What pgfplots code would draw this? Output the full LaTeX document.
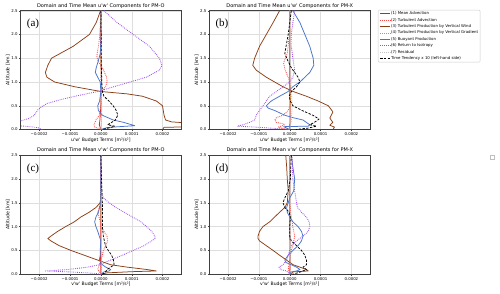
\documentclass[border=0pt]{standalone}
\usepackage{pgfplots}
\pgfplotsset{compat=1.18}
\usepackage{fontspec}
\setmainfont{DejaVu Sans}[Ligatures=TeXOff]
\newfontfamily\labfont{Liberation Serif}

\definecolor{cMA}{RGB}{214,30,30}
\definecolor{cTA}{RGB}{250,70,70}
\definecolor{cPW}{RGB}{139,62,22}
\definecolor{cPG}{RGB}{215,140,70}
\definecolor{cBP}{RGB}{70,115,205}
\definecolor{cRI}{RGB}{155,75,240}
\definecolor{cRS}{RGB}{195,195,195}

\pgfplotsset{
  every axis title shift=0pt,
  s1/.style={color=cMA, line width=0.75pt},
  s2/.style={color=cTA, line width=0.85pt, dash pattern=on 0.8pt off 1.1pt},
  s3/.style={color=cPW, line width=0.75pt},
  s4/.style={color=cPG, line width=0.85pt, dash pattern=on 0.8pt off 1.1pt},
  s5/.style={color=cBP, line width=0.75pt},
  s6/.style={color=cRI, line width=0.85pt, dash pattern=on 0.8pt off 1.1pt},
  s7/.style={color=cRS, line width=0.85pt, dash pattern=on 0.8pt off 1.1pt},
  s8/.style={color=black, line width=0.75pt, dash pattern=on 2.4pt off 1.4pt},
  panel/.style={
    scale only axis, width=160.3pt, height=118.8pt,
    anchor=south west,
    xmin=-0.00026, xmax=0.00026, ymin=0, ymax=2.5,
    xtick={-0.0002,-0.0001,0,0.0001,0.0002},
    xticklabels={−0.0002,−0.0001,0.0000,0.0001,0.0002},
    ytick={0,0.5,1,1.5,2,2.5},
    yticklabels={0.0,0.5,1.0,1.5,2.0,2.5},
    scaled x ticks=false,
    tick label style={font=\fontsize{3.9}{4.5}\selectfont},
    xticklabel style={inner sep=1.2pt},
    yticklabel style={inner sep=1.2pt},
    label style={font=\fontsize{4.6}{5.5}\selectfont},
    xlabel style={inner sep=1pt, yshift=0.5pt},
    ylabel style={inner sep=1pt, yshift=-1pt},
    title style={font=\fontsize{5}{6}\selectfont, inner sep=1pt, yshift=0.8pt},
    grid=major, major grid style={line width=0.35pt, black!13},
    axis line style={line width=0.45pt, black!75},
    tick align=outside, tick pos=left, major tick length=1.8pt,
    tick style={black!75, line width=0.35pt},
    ylabel={Altitude [km]},
    every axis plot/.append style={line join=round},
  },
}

\begin{document}
\begin{tikzpicture}
\path[use as bounding box] (0pt,0pt) rectangle (500pt,293pt);

% ---------------- (a) ----------------
\begin{axis}[panel, at={(20.7pt,163.5pt)},
  title={Domain and Time Mean u'w' Components for PM-O},
  xlabel={u'w' Budget Terms [m²/s²]}]
\addplot[s1] coordinates {(0,2.5)(-0.02e-4,2.0)(0,1.5)(0.02e-4,1.0)(0,0.5)(-0.03e-4,0.2)(-0.05e-4,0.1)(0,0)};
\addplot[s2] coordinates {(0,2.5)(-0.02e-4,2.2)(-0.03e-4,2.0)(-0.08e-4,1.75)(-0.13e-4,1.55)(-0.1e-4,1.45)(0.05e-4,1.3)(0.12e-4,1.2)(0.19e-4,1.1)(0.2e-4,1.0)(0.15e-4,0.9)(0.03e-4,0.8)(0,0.7)(0,0.5)(-0.05e-4,0.3)(-0.16e-4,0.2)(-0.22e-4,0.1)(-0.2e-4,0.05)(-0.05e-4,0.02)(0,0)};
\addplot[s3] coordinates {(-0.01e-4,2.5)(-0.15e-4,2.25)(-0.37e-4,2.0)(-0.9e-4,1.75)(-1.6e-4,1.5)(-1.72e-4,1.35)(-1.8e-4,1.2)(-1.75e-4,1.1)(-1.5e-4,1.0)(-0.85e-4,0.9)(0,0.8)(0.85e-4,0.75)(1.35e-4,0.7)(1.8e-4,0.6)(2.0e-4,0.5)(2.05e-4,0.3)(2.1e-4,0.2)(2.3e-4,0.16)(3.0e-4,0.13)(3.5e-4,0.1)(3.0e-4,0.06)(2.05e-4,0.045)(2.0e-4,0)};
\addplot[s4] coordinates {(0,2.5)(0,1.0)(0.01e-4,0.5)(0.02e-4,0.2)(0,0)};
\addplot[s5] coordinates {(0,2.5)(0.01e-4,2.0)(-0.02e-4,1.6)(-0.08e-4,1.45)(-0.15e-4,1.3)(-0.18e-4,1.2)(-0.1e-4,1.1)(-0.02e-4,1.0)(0,0.8)(-0.04e-4,0.6)(-0.1e-4,0.5)(-0.08e-4,0.4)(0.05e-4,0.3)(0.4e-4,0.2)(0.74e-4,0.15)(1.0e-4,0.1)(1.1e-4,0.08)(0.6e-4,0.06)(0.2e-4,0.04)(0,0)};
\addplot[s6] coordinates {(0.1e-4,2.5)(0.53e-4,2.25)(1.05e-4,2.0)(1.58e-4,1.75)(1.9e-4,1.5)(1.98e-4,1.35)(1.9e-4,1.25)(1.47e-4,1.1)(0.95e-4,1.0)(0.42e-4,0.9)(-0.1e-4,0.8)(-0.84e-4,0.7)(-1.3e-4,0.63)(-1.73e-4,0.55)(-1.9e-4,0.49)(-2.05e-4,0.41)(-2.16e-4,0.3)(-2.32e-4,0.235)(-2.5e-4,0.2)(-2.8e-4,0.15)(-2.7e-4,0.08)(-2.3e-4,0.06)(-2.05e-4,0.04)(-1.9e-4,0)};
\addplot[s7] coordinates {(0,2.5)(0.01e-4,1.5)(0.02e-4,0.8)(0.03e-4,0.3)(0,0)};
\addplot[s8] coordinates {(0,2.5)(0.01e-4,2.0)(0.01e-4,1.5)(0.03e-4,1.0)(0.05e-4,0.8)(0.1e-4,0.7)(0.26e-4,0.6)(0.4e-4,0.5)(0.5e-4,0.4)(0.55e-4,0.3)(0.47e-4,0.2)(0.35e-4,0.15)(0.22e-4,0.1)(0.45e-4,0.07)(0.3e-4,0.04)(0.05e-4,0)};
\node[font=\labfont\fontsize{11}{12}\selectfont] at (rel axis cs:0.077,0.888) {(a)};
\end{axis}

% ---------------- (b) ----------------
\begin{axis}[panel, at={(209.6pt,163.5pt)},
  title={Domain and Time Mean u'w' Components for PM-X},
  xlabel={u'w' Budget Terms [m²/s²]},
  legend style={at={(1.0505,1.006)}, anchor=north west,
    font=\fontsize{3.9}{4.4}\selectfont, draw=black!20, rounded corners=1pt,
    inner xsep=1.5pt, inner ysep=1.2pt, row sep=1.6pt,
    nodes={inner sep=0.5pt, text height=2.9pt, text depth=0.9pt}},
  legend cell align=left,
  legend image code/.code={\draw[#1] (0pt,0pt) -- (10pt,0pt);}]
\addplot[s1] coordinates {(0,2.5)(0,1.0)(0.01e-4,0.3)(0,0)};
\addlegendentry{(1) Mean Advection}
\addplot[s2] coordinates {(0,2.5)(-0.01e-4,2.0)(-0.08e-4,1.6)(-0.2e-4,1.4)(-0.15e-4,1.25)(-0.05e-4,1.1)(0.02e-4,0.9)(0.03e-4,0.7)(0.01e-4,0.5)(-0.05e-4,0.4)(-0.22e-4,0.3)(-0.43e-4,0.25)(-0.49e-4,0.2)(-0.43e-4,0.15)(-0.22e-4,0.12)(-0.16e-4,0.1)(-0.38e-4,0.05)(-0.2e-4,0.02)(0,0)};
\addlegendentry{(2) Turbulent Advection}
\addplot[s3] coordinates {(-0.33e-4,2.5)(-0.54e-4,2.25)(-0.76e-4,2.0)(-0.98e-4,1.75)(-1.14e-4,1.5)(-1.2e-4,1.35)(-1.09e-4,1.25)(-0.76e-4,1.1)(-0.49e-4,1.0)(-0.22e-4,0.9)(0.11e-4,0.8)(0.54e-4,0.7)(0.92e-4,0.6)(1.25e-4,0.5)(1.4e-4,0.37)(1.3e-4,0.24)(1.4e-4,0.15)(1.3e-4,0.09)(1.45e-4,0.05)(1.4e-4,0)};
\addlegendentry{(3) Turbulent Production by Vertical Wind}
\addplot[s4] coordinates {(0,2.5)(0.01e-4,1.0)(0.03e-4,0.4)(0.05e-4,0.2)(0,0)};
\addlegendentry{(4) Turbulent Production by Vertical Gradient}
\addplot[s5] coordinates {(0.1e-4,2.5)(0.33e-4,2.25)(0.49e-4,2.0)(0.65e-4,1.75)(0.76e-4,1.5)(0.78e-4,1.35)(0.65e-4,1.2)(0.49e-4,1.1)(0.33e-4,1.0)(0.1e-4,0.9)(-0.05e-4,0.8)(-0.33e-4,0.7)(-0.6e-4,0.6)(-0.76e-4,0.5)(-0.7e-4,0.45)(-0.49e-4,0.4)(-0.16e-4,0.3)(0.1e-4,0.25)(0.43e-4,0.2)(0.54e-4,0.15)(0.65e-4,0.1)(0.6e-4,0.07)(-0.2e-4,0.06)(-0.1e-4,0.03)(0,0)};
\addlegendentry{(5) Buoyant Production}
\addplot[s6] coordinates {(0.16e-4,2.5)(0.1e-4,2.25)(0.05e-4,2.0)(0.05e-4,1.75)(0.1e-4,1.5)(0.16e-4,1.25)(0.1e-4,1.1)(0,1.0)(-0.22e-4,0.9)(-0.43e-4,0.8)(-0.65e-4,0.7)(-0.76e-4,0.6)(-0.87e-4,0.5)(-0.98e-4,0.4)(-1.09e-4,0.3)(-1.14e-4,0.2)(-1.3e-4,0.15)(-1.52e-4,0.1)(-1.7e-4,0.07)(-1.1e-4,0.05)(-0.4e-4,0.02)(0,0)};
\addlegendentry{(6) Return to Isotropy}
\addplot[s7] coordinates {(0,2.5)(0.02e-4,1.5)(0.05e-4,0.8)(0.08e-4,0.5)(0.06e-4,0.3)(0.02e-4,0.1)(0,0)};
\addlegendentry{(7) Residual}
\addplot[s8] coordinates {(0.05e-4,2.5)(-0.05e-4,2.0)(-0.12e-4,1.75)(-0.16e-4,1.6)(-0.1e-4,1.5)(0.05e-4,1.3)(0.27e-4,1.1)(0.33e-4,1.0)(0.22e-4,0.9)(0.05e-4,0.8)(-0.02e-4,0.7)(0.02e-4,0.6)(0.1e-4,0.5)(0.4e-4,0.4)(0.75e-4,0.3)(0.95e-4,0.22)(0.8e-4,0.15)(0.65e-4,0.1)(0.87e-4,0.07)(0.6e-4,0.03)(0.2e-4,0)};
\addlegendentry{Time Tendency x 10 (left-hand side)}
\node[font=\labfont\fontsize{11}{12}\selectfont] at (rel axis cs:0.077,0.888) {(b)};
\end{axis}

% ---------------- (c) ----------------
\begin{axis}[panel, at={(20.7pt,18.7pt)}, height=119.3pt,
  title={Domain and Time Mean v'w' Components for PM-O},
  xlabel={v'w' Budget Terms [m²/s²]}]
\addplot[s1] coordinates {(0,2.5)(0,1.0)(-0.01e-4,0.3)(0,0)};
\addplot[s2] coordinates {(0,2.5)(0,1.6)(-0.05e-4,1.4)(-0.1e-4,1.3)(-0.02e-4,1.1)(0,1.0)(0.1e-4,0.9)(0.2e-4,0.8)(0.22e-4,0.7)(0.16e-4,0.6)(0.08e-4,0.5)(0.05e-4,0.4)(0,0.3)(-0.05e-4,0.2)(-0.1e-4,0.1)(-0.05e-4,0.05)(0,0)};
\addplot[s3] coordinates {(0,2.5)(0,2.0)(-0.01e-4,1.6)(-0.02e-4,1.5)(-0.16e-4,1.4)(-0.38e-4,1.3)(-0.65e-4,1.2)(-0.86e-4,1.1)(-1.14e-4,1.0)(-1.4e-4,0.9)(-1.62e-4,0.8)(-1.72e-4,0.75)(-1.62e-4,0.7)(-1.35e-4,0.6)(-0.97e-4,0.5)(-0.54e-4,0.4)(-0.11e-4,0.3)(0.32e-4,0.2)(0.86e-4,0.15)(1.5e-4,0.1)(1.8e-4,0.07)(1.0e-4,0.055)(0.2e-4,0.03)(0,0)};
\addplot[s4] coordinates {(0,2.5)(0,1.0)(0.01e-4,0.4)(0.02e-4,0.1)(0,0)};
\addplot[s5] coordinates {(0,2.5)(0,1.5)(-0.08e-4,1.3)(-0.16e-4,1.2)(-0.2e-4,1.1)(-0.16e-4,1.0)(-0.1e-4,0.9)(-0.05e-4,0.8)(0,0.7)(-0.02e-4,0.5)(-0.02e-4,0.4)(-0.05e-4,0.3)(0.05e-4,0.2)(0.16e-4,0.15)(0.32e-4,0.1)(0.27e-4,0.07)(0.1e-4,0.05)(0,0)};
\addplot[s6] coordinates {(0,2.5)(0,2.0)(0.02e-4,1.75)(0.08e-4,1.6)(0.27e-4,1.5)(0.49e-4,1.4)(0.76e-4,1.3)(1.03e-4,1.2)(1.3e-4,1.1)(1.48e-4,1.0)(1.65e-4,0.9)(1.75e-4,0.8)(1.76e-4,0.75)(1.65e-4,0.7)(1.4e-4,0.6)(1.05e-4,0.5)(0.7e-4,0.4)(0.32e-4,0.3)(-0.05e-4,0.2)(-0.43e-4,0.15)(-1.08e-4,0.1)(-1.8e-4,0.07)(-1.0e-4,0.05)(-0.2e-4,0.02)(0,0)};
\addplot[s7] coordinates {(0,2.5)(0.01e-4,1.2)(0.02e-4,0.5)(0,0)};
\addplot[s8] coordinates {(0,2.5)(0.02e-4,2.0)(0.05e-4,1.5)(0.05e-4,1.0)(0.08e-4,0.8)(0.15e-4,0.6)(0.24e-4,0.5)(0.35e-4,0.4)(0.41e-4,0.3)(0.43e-4,0.2)(0.32e-4,0.15)(0.2e-4,0.1)(0.15e-4,0.05)(0.05e-4,0)};
\node[font=\labfont\fontsize{11}{12}\selectfont] at (rel axis cs:0.077,0.888) {(c)};
\end{axis}

% ---------------- (d) ----------------
\begin{axis}[panel, at={(209.6pt,18.7pt)}, height=119.3pt,
  title={Domain and Time Mean v'w' Components for PM-X},
  xlabel={v'w' Budget Terms [m²/s²]}]
\addplot[s1] coordinates {(0,2.5)(0,1.0)(0.01e-4,0.3)(0,0)};
\addplot[s2] coordinates {(0,2.5)(0,1.5)(0.05e-4,1.2)(0.1e-4,1.0)(0.16e-4,0.8)(0.1e-4,0.6)(0.05e-4,0.5)(0,0.3)(-0.05e-4,0.1)(0,0)};
\addplot[s3] coordinates {(-0.13e-4,2.5)(-0.1e-4,2.25)(-0.08e-4,2.0)(-0.05e-4,1.75)(-0.08e-4,1.5)(-0.16e-4,1.4)(-0.33e-4,1.3)(-0.49e-4,1.2)(-0.65e-4,1.1)(-0.87e-4,1.0)(-0.98e-4,0.9)(-1.03e-4,0.8)(-1.03e-4,0.75)(-0.98e-4,0.7)(-0.76e-4,0.6)(-0.54e-4,0.5)(-0.33e-4,0.4)(-0.11e-4,0.3)(0.11e-4,0.2)(0.33e-4,0.15)(0.54e-4,0.1)(0.6e-4,0.07)(0.1e-4,0.05)(0.05e-4,0)};
\addplot[s4] coordinates {(0,2.5)(0,1.0)(0.01e-4,0.4)(0.02e-4,0.1)(0,0)};
\addplot[s5] coordinates {(0.05e-4,2.5)(0.1e-4,2.25)(0.16e-4,2.0)(0.13e-4,1.75)(0,1.6)(-0.05e-4,1.5)(-0.1e-4,1.4)(-0.08e-4,1.3)(0,1.2)(0.1e-4,1.1)(0.27e-4,1.0)(0.38e-4,0.9)(0.43e-4,0.8)(0.38e-4,0.7)(0.27e-4,0.6)(0.1e-4,0.5)(-0.05e-4,0.4)(-0.16e-4,0.3)(-0.13e-4,0.25)(0.05e-4,0.2)(0.22e-4,0.15)(0.33e-4,0.1)(0.22e-4,0.07)(0.05e-4,0.05)(0,0)};
\addplot[s6] coordinates {(0.08e-4,2.5)(0.1e-4,2.0)(0.16e-4,1.75)(0.22e-4,1.5)(0.25e-4,1.4)(0.38e-4,1.3)(0.54e-4,1.2)(0.63e-4,1.1)(0.65e-4,1.0)(0.6e-4,0.9)(0.43e-4,0.8)(0.22e-4,0.7)(0.05e-4,0.6)(0,0.5)(-0.05e-4,0.4)(-0.1e-4,0.3)(-0.22e-4,0.2)(-0.35e-4,0.15)(-0.3e-4,0.1)(-0.1e-4,0.07)(0,0)};
\addplot[s7] coordinates {(0,2.5)(0.01e-4,1.2)(0.03e-4,0.5)(0,0)};
\addplot[s8] coordinates {(0.05e-4,2.5)(0.02e-4,2.0)(-0.05e-4,1.75)(-0.16e-4,1.6)(-0.22e-4,1.5)(-0.16e-4,1.4)(-0.02e-4,1.3)(0.02e-4,1.2)(0,1.0)(0,0.8)(0.05e-4,0.7)(0.22e-4,0.6)(0.38e-4,0.5)(0.49e-4,0.4)(0.54e-4,0.3)(0.54e-4,0.2)(0.43e-4,0.15)(0.54e-4,0.1)(0.35e-4,0.05)(0.1e-4,0)};
\node[font=\labfont\fontsize{11}{12}\selectfont] at (rel axis cs:0.077,0.888) {(d)};
\end{axis}

\draw[black!25, line width=0.3pt] (490pt,134pt) rectangle (494pt,138pt);
\end{tikzpicture}
\end{document}
